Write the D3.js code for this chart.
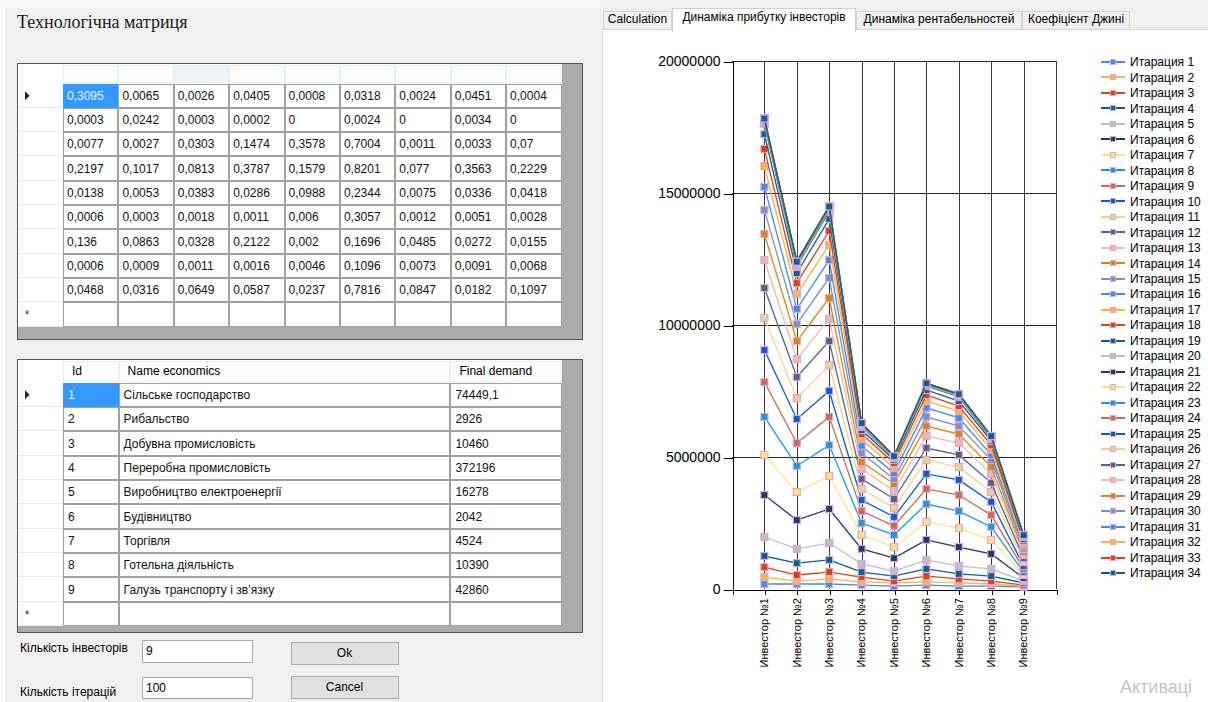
<!DOCTYPE html>
<html>
<head>
<meta charset="utf-8">
<script src="https://cdn.jsdelivr.net/npm/d3@7"></script>
<style>
    body { margin: 0; background: #fff; overflow: hidden; }
    svg { display: block; font-family: "Liberation Sans", Arial, sans-serif; }
</style>
</head>
<body>
<div id="app"></div>
<script>
const matrixTitle = 'Технологічна матриця';

const techMatrix = [
    [0.3095, 0.0065, 0.0026, 0.0405, 0.0008, 0.0318, 0.0024, 0.0451, 0.0004],
    [0.0003, 0.0242, 0.0003, 0.0002, 0, 0.0024, 0, 0.0034, 0],
    [0.0077, 0.0027, 0.0303, 0.1474, 0.3578, 0.7004, 0.0011, 0.0033, 0.07],
    [0.2197, 0.1017, 0.0813, 0.3787, 0.1579, 0.8201, 0.077, 0.3563, 0.2229],
    [0.0138, 0.0053, 0.0383, 0.0286, 0.0988, 0.2344, 0.0075, 0.0336, 0.0418],
    [0.0006, 0.0003, 0.0018, 0.0011, 0.006, 0.3057, 0.0012, 0.0051, 0.0028],
    [0.136, 0.0863, 0.0328, 0.2122, 0.002, 0.1696, 0.0485, 0.0272, 0.0155],
    [0.0006, 0.0009, 0.0011, 0.0016, 0.0046, 0.1096, 0.0073, 0.0091, 0.0068],
    [0.0468, 0.0316, 0.0649, 0.0587, 0.0237, 0.7816, 0.0847, 0.0182, 0.1097]
];

const sectorColumns = ['Id', 'Name economics', 'Final demand'];
const sectorIds = [1, 2, 3, 4, 5, 6, 7, 8, 9];
const sectorNames = [
    'Сільське господарство', 'Рибальство', 'Добувна промисловість',
    'Переробна промисловість', 'Виробництво електроенергії', 'Будівництво',
    'Торгівля', 'Готельна діяльність', 'Галузь транспорту і зв\u2019язку'
];
const finalDemand = [74449.1, 2926, 10460, 372196, 16278, 2042, 4524, 10390, 42860];

const investorCount = 9;
const iterationCount = 100;

const tabNames = ['Calculation', 'Динаміка прибутку інвесторів', 'Динаміка рентабельностей', 'Коефіцієнт Джині'];

const investors = ['Инвестор №1', 'Инвестор №2', 'Инвестор №3', 'Инвестор №4', 'Инвестор №5',
    'Инвестор №6', 'Инвестор №7', 'Инвестор №8', 'Инвестор №9'];
const yTicks = [0, 5000000, 10000000, 15000000, 20000000];

// investor profit per iteration, millions
const profitMln = [
    [0.19, 0.19, 0.19, 0.15, 0.11, 0.15, 0.11, 0.11, 0.08],
    [0.45, 0.30, 0.38, 0.27, 0.23, 0.27, 0.23, 0.19, 0.11],
    [0.83, 0.53, 0.64, 0.45, 0.30, 0.49, 0.38, 0.30, 0.15],
    [1.25, 0.98, 1.10, 0.64, 0.49, 0.76, 0.57, 0.49, 0.23],
    [1.97, 1.52, 1.74, 0.95, 0.68, 1.10, 0.87, 0.76, 0.30],
    [3.56, 2.61, 3.03, 1.52, 1.17, 1.86, 1.59, 1.33, 0.42],
    [5.08, 3.67, 4.28, 2.05, 1.59, 2.54, 2.31, 1.86, 0.53],
    [6.52, 4.66, 5.45, 2.50, 2.05, 3.22, 2.95, 2.35, 0.64],
    [7.84, 5.53, 6.52, 2.95, 2.39, 3.79, 3.56, 2.80, 0.76],
    [9.05, 6.44, 7.50, 3.37, 2.73, 4.36, 4.13, 3.30, 0.87],
    [10.27, 7.23, 8.48, 3.79, 3.07, 4.89, 4.62, 3.67, 1.02],
    [11.40, 8.03, 9.39, 4.17, 3.41, 5.34, 5.08, 4.02, 1.17],
    [12.46, 8.71, 10.23, 4.55, 3.71, 5.80, 5.53, 4.36, 1.29],
    [13.45, 9.39, 11.02, 4.81, 3.98, 6.17, 5.87, 4.62, 1.40],
    [14.36, 10.04, 11.78, 5.15, 4.17, 6.52, 6.17, 4.89, 1.52],
    [15.23, 10.61, 12.46, 5.42, 4.39, 6.86, 6.48, 5.08, 1.63],
    [16.02, 11.17, 13.03, 5.68, 4.58, 7.12, 6.74, 5.27, 1.70],
    [16.67, 11.59, 13.56, 5.87, 4.77, 7.35, 6.93, 5.45, 1.82],
    [17.23, 11.97, 14.02, 6.02, 4.89, 7.54, 7.12, 5.61, 1.89],
    [17.61, 12.20, 14.28, 6.14, 4.96, 7.69, 7.27, 5.68, 1.97],
    [17.66, 12.24, 14.32, 6.17, 4.97, 7.71, 7.29, 5.70, 1.98],
    [17.70, 12.27, 14.36, 6.19, 4.98, 7.73, 7.31, 5.72, 1.99],
    [17.73, 12.30, 14.39, 6.21, 4.99, 7.74, 7.32, 5.73, 2.00],
    [17.76, 12.33, 14.42, 6.23, 5.00, 7.75, 7.33, 5.74, 2.01],
    [17.84, 12.42, 14.51, 6.29, 5.04, 7.80, 7.39, 5.80, 2.05],
    [17.78, 12.35, 14.44, 6.24, 5.00, 7.76, 7.34, 5.75, 2.01],
    [17.79, 12.36, 14.45, 6.25, 5.01, 7.77, 7.35, 5.76, 2.02],
    [17.80, 12.37, 14.46, 6.25, 5.01, 7.77, 7.35, 5.76, 2.02],
    [17.80, 12.38, 14.47, 6.26, 5.02, 7.78, 7.36, 5.77, 2.03],
    [17.81, 12.38, 14.47, 6.26, 5.02, 7.78, 7.36, 5.77, 2.03],
    [17.81, 12.39, 14.48, 6.27, 5.02, 7.78, 7.37, 5.78, 2.03],
    [17.82, 12.39, 14.48, 6.27, 5.03, 7.79, 7.37, 5.78, 2.04],
    [17.82, 12.40, 14.49, 6.27, 5.03, 7.79, 7.37, 5.78, 2.04],
    [17.82, 12.40, 14.49, 6.28, 5.03, 7.79, 7.38, 5.79, 2.04]
];
const iterationNames = profitMln.map((d, i) => 'Итарация ' + (i + 1));

// MS Chart "BrightPastel"
const palette = ['#418CF0', '#FCB441', '#E0400A', '#056492', '#BFBFBF', '#1A3B69', '#FFE382',
    '#129CDD', '#CA6B4B', '#005CDB', '#F3D288', '#506381', '#F1B9A8', '#E0830A', '#7893BE'];

const fmt = v => String(v).replace('.', ',');

const W = 1208, H = 702;
const svg = d3.select('#app').append('svg')
    .attr('width', W)
    .attr('height', H)
    .attr('shape-rendering', 'crispEdges');

// window background
svg.append('rect').attr('width', W).attr('height', H).attr('fill', '#fafafa');
svg.append('rect').attr('x', 5).attr('y', 8).attr('width', 595).attr('height', H - 8).attr('fill', '#f0f0f0');
svg.append('rect').attr('x', 600).attr('y', 0).attr('width', W - 600).attr('height', H).attr('fill', '#f0f0f0');

svg.append('text')
    .attr('x', 17).attr('y', 28)
    .attr('font-family', '"Liberation Serif", serif')
    .attr('font-size', 18)
    .attr('fill', '#1a1a1a')
    .text(matrixTitle);

// ---- generic grid helper ----
function drawGrid(opt) {
    let g = svg.append('g');
    let colW = i => opt.cols[i + 1] - opt.cols[i];
    let nCols = opt.cols.length - 1;

    // dark background + border
    g.append('rect')
        .attr('x', opt.left + 0.5).attr('y', opt.top + 0.5)
        .attr('width', opt.right - opt.left).attr('height', opt.bottom - opt.top)
        .attr('fill', '#ababab').attr('stroke', '#555');

    // header row
    g.append('rect')
        .attr('x', opt.left + 1).attr('y', opt.top + 1)
        .attr('width', opt.cols[nCols] - opt.left - 1).attr('height', opt.rowY(0) - opt.top - 1)
        .attr('fill', '#fff');
    d3.range(nCols).forEach(c => {
        g.append('rect')
            .attr('x', opt.cols[c] + 0.5).attr('y', opt.top + 2.5)
            .attr('width', colW(c) - 1).attr('height', opt.rowY(0) - opt.top - 4)
            .attr('fill', c === opt.hotHeader ? '#eef3fa' : '#fcfcfc')
            .attr('stroke', '#e6eef8');
        if (opt.headers) {
            g.append('text')
                .attr('x', opt.cols[c] + 9).attr('y', (opt.top + opt.rowY(0)) / 2 + 1)
                .attr('dominant-baseline', 'middle')
                .attr('font-size', 12)
                .text(opt.headers[c]);
        }
    });

    // row headers
    let nRows = opt.rows.length + 1;
    d3.range(nRows).forEach(r => {
        let y0 = opt.rowY(r), y1 = opt.rowY(r + 1);
        g.append('rect')
            .attr('x', opt.left + 1).attr('y', y0)
            .attr('width', opt.cols[0] - opt.left - 1).attr('height', y1 - y0)
            .attr('fill', '#fff');
        g.append('line')
            .attr('x1', opt.left + 1).attr('x2', opt.cols[0])
            .attr('y1', Math.round(y1) - 0.5).attr('y2', Math.round(y1) - 0.5)
            .attr('stroke', '#e3ebf5');
        let cy = (y0 + y1) / 2;
        if (r === 0) {
            g.append('path')
                .attr('d', `M25,${cy - 4.5}L29.5,${cy}L25,${cy + 4.5}Z`)
                .attr('fill', '#222').attr('shape-rendering', 'auto');
        }
        if (r === nRows - 1) {
            g.append('text')
                .attr('x', 27).attr('y', cy + 5)
                .attr('text-anchor', 'middle')
                .attr('font-size', 12).attr('fill', '#333')
                .text('*');
        }
    });

    // cells
    d3.range(nRows).forEach(r => {
        let y0 = Math.round(opt.rowY(r)), y1 = Math.round(opt.rowY(r + 1));
        d3.range(nCols).forEach(c => {
            let sel = (r === 0 && c === 0);
            g.append('rect')
                .attr('x', Math.round(opt.cols[c]) + 0.5).attr('y', y0 + 0.5)
                .attr('width', Math.round(opt.cols[c + 1]) - Math.round(opt.cols[c]) - 1)
                .attr('height', y1 - y0 - 1)
                .attr('fill', sel ? '#3399ff' : '#fff')
                .attr('stroke', sel ? '#3399ff' : '#a0a0a0');
            if (r < opt.rows.length) {
                g.append('text')
                    .attr('x', opt.cols[c] + opt.pad).attr('y', (y0 + y1) / 2 + 1)
                    .attr('dominant-baseline', 'middle')
                    .attr('font-size', 12)
                    .attr('fill', sel ? '#e8f2ff' : '#111')
                    .text(opt.rows[r][c]);
            }
        });
    });
}

// technological matrix grid
let matrixCol = d3.scaleLinear().domain([0, 9]).range([63, 561.5]);
drawGrid({
    left: 17, right: 582, top: 63, bottom: 339,
    cols: d3.range(10).map(matrixCol),
    rowY: d3.scaleLinear().domain([0, 10]).range([83.5, 326.5]),
    rows: techMatrix.map(r => r.map(fmt)),
    hotHeader: 2,
    pad: 4
});

// sectors grid
drawGrid({
    left: 17, right: 582, top: 359, bottom: 632,
    cols: [63, 118.6, 450.4, 561.5],
    rowY: d3.scaleLinear().domain([0, 10]).range([382.5, 626]),
    headers: sectorColumns,
    rows: sectorIds.map((id, i) => [id, sectorNames[i], fmt(finalDemand[i])]),
    pad: 5
});

// bottom controls
function textBox(x, y, w, h, value) {
    svg.append('rect').attr('x', x + 0.5).attr('y', y + 0.5).attr('width', w).attr('height', h)
        .attr('fill', '#fff').attr('stroke', '#a9a9a9');
    svg.append('text').attr('x', x + 4).attr('y', y + h / 2 + 1)
        .attr('dominant-baseline', 'middle').attr('font-size', 12).text(value);
}
function button(x, y, w, h, label) {
    svg.append('rect').attr('x', x + 0.5).attr('y', y + 0.5).attr('width', w).attr('height', h)
        .attr('fill', '#e1e1e1').attr('stroke', '#adadad');
    svg.append('text').attr('x', x + w / 2).attr('y', y + h / 2 + 1)
        .attr('text-anchor', 'middle').attr('dominant-baseline', 'middle')
        .attr('font-size', 12).text(label);
}
svg.append('text').attr('x', 20).attr('y', 649).attr('dominant-baseline', 'middle')
    .attr('font-size', 12).text('Кількість інвесторів');
svg.append('text').attr('x', 20).attr('y', 693).attr('dominant-baseline', 'middle')
    .attr('font-size', 12).text('Кількість ітерацій');
textBox(142, 640, 110, 22, investorCount);
textBox(142, 677, 110, 21, iterationCount);
button(291, 642, 107, 22, 'Ok');
button(291, 676, 107, 22, 'Cancel');

// ---- tab control ----
const tabEdges = [603, 672, 856, 1022, 1130];
const activeTab = 1;
svg.append('rect')
    .attr('x', 602.5).attr('y', 29.5).attr('width', W - 602).attr('height', H - 29)
    .attr('fill', '#fff').attr('stroke', '#d9d9d9');
tabNames.forEach((name, i) => {
    let x0 = tabEdges[i], x1 = tabEdges[i + 1];
    let active = i === activeTab;
    let top = active ? 8 : 11;
    svg.append('rect')
        .attr('x', x0 + 0.5).attr('y', top + 0.5)
        .attr('width', x1 - x0 - 1).attr('height', 30 - top + (active ? 1 : -1))
        .attr('fill', active ? '#fff' : '#f0f0f0')
        .attr('stroke', '#d0d0d0');
    if (active) {
        svg.append('rect').attr('x', x0 + 1).attr('y', 28).attr('width', x1 - x0 - 2).attr('height', 4).attr('fill', '#fff');
    }
    svg.append('text')
        .attr('x', (x0 + x1) / 2).attr('y', active ? 18 : 20)
        .attr('text-anchor', 'middle').attr('dominant-baseline', 'middle')
        .attr('font-size', 12)
        .text(name);
});

// ---- chart ----
const x = d3.scaleLinear().domain([0, 10]).range([732, 1056]);
const y = d3.scaleLinear().domain([0, 20000000]).range([589, 61]);
const chart = svg.append('g');

// gridlines
chart.selectAll('.hgrid')
    .data(yTicks.slice(1))
    .enter().append('line')
    .attr('x1', x(0)).attr('x2', x(10))
    .attr('y1', d => Math.round(y(d)) + 0.5).attr('y2', d => Math.round(y(d)) + 0.5)
    .attr('stroke', '#262626');
chart.selectAll('.vgrid')
    .data(d3.range(1, 11))
    .enter().append('line')
    .attr('x1', d => Math.round(x(d)) + 0.5).attr('x2', d => Math.round(x(d)) + 0.5)
    .attr('y1', y(20000000)).attr('y2', y(0))
    .attr('stroke', '#3a3a3a');

// axes
let yAxis = chart.append('g')
    .attr('transform', `translate(${x(0) + 0.5},0.5)`)
    .call(d3.axisLeft(y).tickValues(yTicks).tickSize(9).tickSizeOuter(0).tickPadding(3)
        .tickFormat(d3.format('d')));
yAxis.selectAll('text').attr('font-size', 14).attr('font-family', '"Liberation Sans", Arial, sans-serif').attr('fill', '#000');
yAxis.selectAll('line, path').attr('stroke', '#000');

let xAxis = chart.append('g')
    .attr('transform', `translate(0.5,${y(0) + 0.5})`)
    .call(d3.axisBottom(x).tickValues(d3.range(0, 11)).tickSize(5).tickSizeOuter(0).tickFormat(''));
xAxis.selectAll('line, path').attr('stroke', '#000');

chart.selectAll('.xlabel')
    .data(investors)
    .enter().append('text')
    .attr('transform', (d, i) => `translate(${x(i + 1)},598) rotate(-90)`)
    .attr('dy', '0.35em')
    .attr('text-anchor', 'end')
    .attr('font-size', 11)
    .text(d => d);

// series
let line = d3.line()
    .x((d, i) => x(i + 1))
    .y(d => y(d * 1e6));

let series = chart.selectAll('.series')
    .data(profitMln)
    .enter().append('g')
    .attr('class', 'series');

series.append('path')
    .attr('d', d => line(d))
    .attr('fill', 'none')
    .attr('stroke', (d, i) => palette[i % palette.length])
    .attr('stroke-width', 1.3)
    .attr('shape-rendering', 'auto');

series.each(function (d, si) {
    d3.select(this).selectAll('rect')
        .data(d)
        .enter().append('rect')
        .attr('x', (v, i) => x(i + 1) - 3.5)
        .attr('y', v => y(v * 1e6) - 3.5)
        .attr('width', 7).attr('height', 7)
        .attr('fill', palette[si % palette.length])
        .attr('stroke', '#dba6de')
        .attr('stroke-width', 1.2)
        .attr('shape-rendering', 'auto');
});

// legend
const legendY = d3.scaleLinear().domain([0, 33]).range([62, 573]);
let legend = chart.selectAll('.legend')
    .data(iterationNames)
    .enter().append('g')
    .attr('transform', (d, i) => `translate(1101,${legendY(i)})`);
legend.append('line')
    .attr('x1', 0).attr('x2', 24)
    .attr('stroke', (d, i) => palette[i % palette.length])
    .attr('stroke-width', 2);
legend.append('rect')
    .attr('x', 9.5).attr('y', -2.5).attr('width', 5).attr('height', 5)
    .attr('fill', (d, i) => palette[i % palette.length])
    .attr('stroke', '#dba6de');
legend.append('text')
    .attr('x', 29).attr('dy', '0.35em')
    .attr('font-size', 12)
    .text(d => d);

// OS watermark bleeding in at the corner (cut by the screen edge in the original)
svg.append('text')
    .attr('x', 1120).attr('y', 693)
    .attr('font-size', 18)
    .attr('fill', '#c4c4c4')
    .text('Активаці');
</script>
</body>
</html>
